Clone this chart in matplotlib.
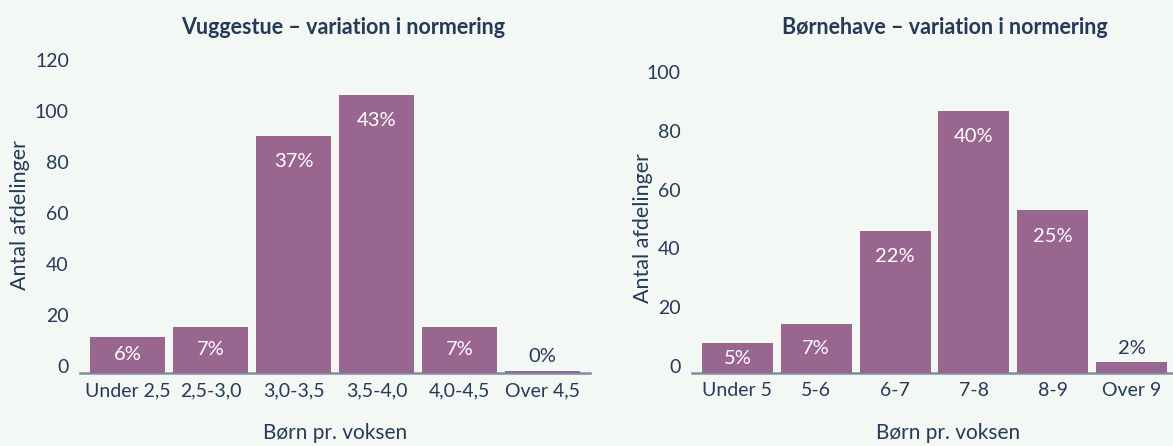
import numpy as np
import matplotlib
matplotlib.use("Agg")
import matplotlib.pyplot as plt
from matplotlib.transforms import ScaledTranslation

# data
vug_cats = ['Under 2,5', '2,5-3,0', '3,0-3,5', '3,5-4,0', '4,0-4,5', 'Over 4,5']
vug_vals = [14, 18, 93, 109, 18, 0.7]
vug_pct = ['6%', '7%', '37%', '43%', '7%', '0%']

bh_cats = ['Under 5', '5-6', '6-7', '7-8', '8-9', 'Over 9']
bh_vals = [10, 16.5, 48.3, 89.2, 55.4, 3.6]
bh_pct = ['5%', '7%', '22%', '40%', '25%', '2%']

bg = '#f4f8f5'
bar_col = '#98668f'
navy = '#253a58'
axis_col = '#7d8ea3'

plt.rcParams['font.family'] = ['Lato', 'DejaVu Sans']

fig = plt.figure(figsize=(11.73, 4.46), dpi=100, facecolor=bg)


def draw(ax, cats, vals, pct, ymax, step):
    x = np.arange(len(cats))
    bars = ax.bar(x, vals, width=0.9, color=bar_col, zorder=3)
    ax.set_facecolor(bg)
    ax.set_xlim(-0.575, len(cats) - 0.425)
    ax.set_ylim(0, ymax)
    ax.set_yticks(np.arange(0, ymax + 1, step))
    ax.set_xticks(x)
    ax.set_xticklabels(cats)
    for s in ['top', 'right', 'left']:
        ax.spines[s].set_visible(False)
    ax.spines['bottom'].set_color(axis_col)
    ax.spines['bottom'].set_linewidth(1.8)
    ax.spines['bottom'].set_zorder(2)
    ax.tick_params(length=0, labelsize=14, colors=navy)
    ax.tick_params(axis='y', pad=8)
    ax.tick_params(axis='x', pad=7)
    # the y labels sit a little above their values in the original
    for lbl in ax.get_yticklabels():
        lbl.set_transform(lbl.get_transform() + ScaledTranslation(0, 5 / 72, fig.dpi_scale_trans))

    # percentage labels
    px_per_unit = ax.bbox.height / ymax
    for b, v, p in zip(bars, vals, pct):
        cx = b.get_x() + b.get_width() / 2
        hpx = v * px_per_unit
        if hpx > 60:
            ax.annotate(p, (cx, v), xytext=(0, -26 * 0.72), textcoords='offset points',
                        ha='center', va='center', color='white', fontsize=14.5, zorder=4)
        elif hpx > 20:
            ax.annotate(p, (cx, v / 2), ha='center', va='center', color='white', fontsize=14.5, zorder=4)
        else:
            ax.annotate(p, (cx, v), xytext=(0, 14 * 0.72), textcoords='offset points',
                        ha='center', va='center', color=navy, fontsize=14.5, zorder=4)


ax1 = fig.add_axes([80 / 1173, 1 - 372.7 / 446, 510 / 1173, (372.7 - 66.7) / 446])
draw(ax1, vug_cats, vug_vals, vug_pct, 120, 20)
ax2 = fig.add_axes([692 / 1173, 1 - 372.7 / 446, 485 / 1173, (372.7 - 79.2) / 446])
draw(ax2, bh_cats, bh_vals, bh_pct, 100, 20)

fig.text(343 / 1173, 1 - 27 / 446, 'Vuggestue – variation i normering', ha='center', va='center',
         fontsize=15.5, fontweight='bold', color=navy)
fig.text(945 / 1173, 1 - 28 / 446, 'Børnehave – variation i normering', ha='center', va='center',
         fontsize=15.5, fontweight='bold', color=navy)

fig.text(335 / 1173, 1 - 433 / 446, 'Børn pr. voksen', ha='center', va='center', fontsize=15, color=navy)
fig.text(948 / 1173, 1 - 433 / 446, 'Børn pr. voksen', ha='center', va='center', fontsize=15, color=navy)

fig.text(20 / 1173, 1 - 215 / 446, 'Antal afdelinger', rotation=90, ha='center', va='center',
         fontsize=15.5, color=navy)
fig.text(643 / 1173, 1 - 228 / 446, 'Antal afdelinger', rotation=90, ha='center', va='center',
         fontsize=15.5, color=navy)

fig.savefig('out.png', dpi=100, facecolor=bg)
